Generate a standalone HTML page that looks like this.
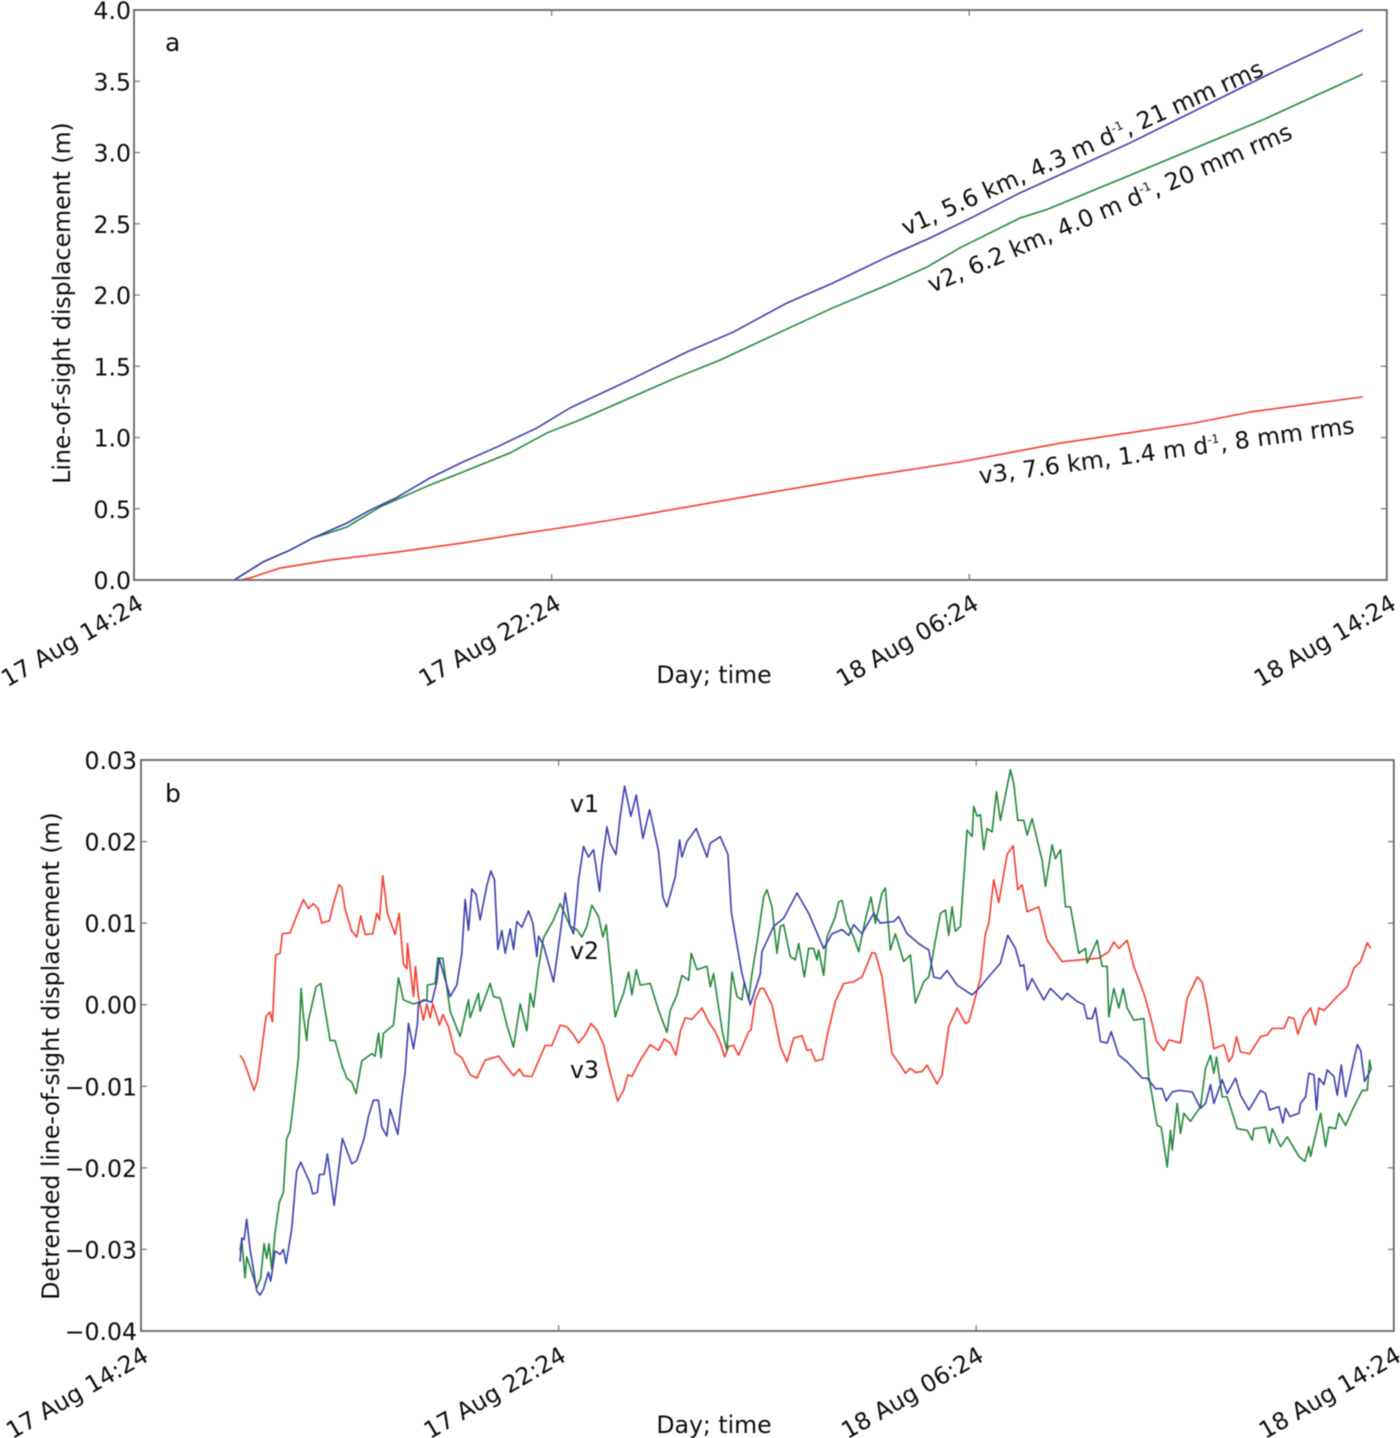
<!DOCTYPE html>
<html lang="en">
<head>
<meta charset="utf-8">
<title>Line-of-sight displacement</title>
<style>
html,body{margin:0;padding:0;background:#fff;}
svg{display:block;filter:blur(.55px);}
text{font-family:"DejaVu Sans","Liberation Sans",sans-serif;fill:#0c0c0c;font-size:23.6px;}
</style>
</head>
<body>
<svg id="fig" xmlns="http://www.w3.org/2000/svg" width="1400" height="1438" viewBox="0 0 1400 1438">
  <rect x="0" y="0" width="1400" height="1438" fill="#fff"/>
  <g id="panelA"></g>
  <g id="panelB"></g>
  <text x="165" y="51" style="font-size:25px">a</text>
  <text x="165" y="802" style="font-size:25px">b</text>
  <text text-anchor="middle" transform="translate(70,303) rotate(-90)">Line-of-sight displacement (m)</text>
  <text text-anchor="middle" transform="translate(59,1056) rotate(-90)">Detrended line-of-sight displacement (m)</text>
  <text text-anchor="middle" x="714" y="683">Day; time</text>
  <text text-anchor="middle" x="714" y="1433">Day; time</text>
  <text transform="translate(906,236) rotate(-24.2)">v1, 5.6 km, 4.3 m d<tspan font-size="12" dy="-9">-1</tspan><tspan dy="9">, 21 mm rms</tspan></text>
  <text transform="translate(932,293) rotate(-23.2)">v2, 6.2 km, 4.0 m d<tspan font-size="12" dy="-9">-1</tspan><tspan dy="9">, 20 mm rms</tspan></text>
  <text transform="translate(980,484) rotate(-7.7)">v3, 7.6 km, 1.4 m d<tspan font-size="12" dy="-9">-1</tspan><tspan dy="9">, 8 mm rms</tspan></text>
  <text x="570" y="812">v1</text>
  <text x="570" y="959">v2</text>
  <text x="570" y="1078">v3</text>
</svg>
<script>
// ---- shared tick data
const dateTicks = ["17 Aug 14:24", "17 Aug 22:24", "18 Aug 06:24", "18 Aug 14:24"];
const dateTickHours = [0, 8, 16, 24];

// ---- panel a: elapsed hours since 17 Aug 14:24, cumulative displacement in metres
const aTicks = [0, 0.5, 1, 1.5, 2, 2.5, 3, 3.5, 4];
const aTickLabels = ["0.0", "0.5", "1.0", "1.5", "2.0", "2.5", "3.0", "3.5", "4.0"];
const aV1Hours = [1.92,2.47,2.99,3.43,4.08,4.52,5.04,5.67,6.30,6.95,7.72,8.35,9.50,10.59,11.48,12.51,13.39,14.43,15.25,16.07,16.97,19.08,21.63,23.54];
const aV1Disp = [0,0.126,0.21,0.295,0.40,0.49,0.58,0.716,0.828,0.933,1.067,1.207,1.404,1.60,1.74,1.944,2.084,2.267,2.40,2.547,2.716,3.067,3.53,3.86];
const aV2Hours = [1.92,2.47,2.99,3.43,4.08,4.71,5.67,6.30,7.20,7.91,8.54,9.50,10.33,11.23,12.38,13.39,14.43,15.19,15.82,16.97,17.49,19.41,21.63,23.54];
const aV2Disp = [0,0.126,0.21,0.295,0.372,0.512,0.667,0.758,0.891,1.032,1.123,1.277,1.411,1.544,1.74,1.91,2.07,2.196,2.33,2.54,2.60,2.89,3.23,3.55];
const aV3Hours = [2.03,2.22,2.80,3.75,5.04,6.30,7.26,8.54,9.50,11.8,13.72,15.82,17.74,20.29,21.4,23.54];
const aV3Disp = [0,0.014,0.084,0.14,0.196,0.26,0.316,0.386,0.442,0.59,0.71,0.828,0.96,1.10,1.18,1.285];

// ---- panel b: sample number (23 s cadence from 17 Aug 14:24), detrended displacement in mm
const SAMPLE_SECONDS = 23;
const bTicks = [-40, -30, -20, -10, 0, 10, 20, 30];
const bTickLabels = ["\u22120.04", "\u22120.03", "\u22120.02", "\u22120.01", "0.00", "0.01", "0.02", "0.03"];

const bV3Samples = [297,307,317,339,349,362,375,387,394,404,417,424,447,462,487,502,517,532,542,565,577,594,602,612,632,647,659,672,695,707,715,725,739,762,774,787,797,799,817,823,832,847,857,867,875,895,905,922,942,962,987,1007,1032,1072,1117,1135,1147,1172,1212,1232,
1257,1277,1297,1312,1332,1349,1367,1387,1402,1429,1447,1460,1472,1497,1527,1552,1569,1587,1604,1617,1632,1652,1682,1702,1722,1737,1750,1762,1777,1792,1822,1829,1842,1857,1867,1892,1917,1937,1957,1982,1997,2009,2022,2044,2057,2082,2107,2137,2162,2192,2202,2222,2252,2277,2292,2307,2322,2342,2357,2387,2402,2422,2447,2472,2482,
2517,2532,2542,2557,2572,2597,2615,2629,2642,2657,2692,2717,2762,2872,2887,2902,2917,2932,2957,2977,3007,3027,3045,3067,3082,3117,3137,3167,3182,3197,3217,3247,3262,3272,3285,3297,3325,3357,3377,3392,3427,3442,3457,3469,3487,3507,3522,3532,3547,3587,3617,3637,3657,3677,3687];
const bV3Disp = [-6.2,-6.8,-7.9,-10.5,-9.3,-5.4,-1.4,-0.9,-2.1,6.1,6.3,8.7,8.8,10.4,12.9,11.8,12.4,11.7,10.0,10.3,12.4,14.7,14.4,11.7,9.0,8.3,10.9,8.6,8.7,11.2,10.4,15.8,11.2,8.6,11.2,5.0,4.4,7.5,1.0,4.7,1.0,-1.9,0.1,-1.6,0.1,-2.5,-1.2,-2.7,-5.9,-6.5,-8.6,-9.0,-6.8,-6.3,-8.7,-7.9,-8.7,-8.8,-5.0,-5.0,
-2.5,-2.7,-3.7,-4.7,-3.7,-2.3,-3.1,-4.9,-7.6,-11.8,-10.5,-8.6,-8.8,-6.8,-4.9,-5.6,-4.2,-4.7,-6.2,-3.3,-1.6,-1.8,-0.4,-2.1,-3.3,-4.7,-6.4,-5.1,-5.0,-6.2,-3.3,-3.1,0.6,2.0,2.0,0.0,-5.1,-7.0,-4.1,-3.8,-5.6,-5.5,-6.9,-6.7,-3.9,0.4,2.6,2.8,3.4,6.4,6.3,3.4,-6.0,-7.4,-8.4,-7.8,-8.3,-8.2,-7.4,-9.7,-8.6,-2.7,-0.4,-2.3,-2.1,
3.2,8.7,10.0,15.3,12.5,18.4,19.5,14.1,14.7,11.4,12.0,7.9,5.3,5.7,6.1,6.5,7.7,6.9,7.9,4.7,1.4,-1.5,-4.5,-5.6,-4.3,-4.7,0.8,3.4,2.8,-0.2,-5.4,-4.9,-7.0,-6.4,-3.9,-5.8,-6.0,-3.9,-3.7,-2.9,-2.9,-1.5,-1.7,-3.6,-1.5,-0.4,-2.5,-0.4,-0.7,1.0,2.2,4.5,5.3,7.6,6.9];

const bV2Samples = [297,302,312,317,332,347,359,369,377,384,392,402,415,427,437,447,459,472,480,487,497,502,525,539,567,582,602,617,632,645,662,692,702,712,720,727,757,772,787,817,857,859,882,890,905,927,957,982,987,1012,1017,1047,1057,1077,1097,1117,1137,1157,1167,1177,1192,1207,1237,
1257,1272,1287,1307,1322,1337,1352,1372,1385,1395,1422,1432,1447,1462,1472,1485,1497,1527,1552,1577,1587,1607,1622,1642,1650,1667,1697,1707,1717,1727,1745,1757,1772,1787,1802,1809,1822,1832,1847,1867,1877,1892,1907,1917,1927,1947,1962,1972,1989,2002,2017,2027,2032,2047,2057,2082,2092,2102,2117,2137,2152,2172,2189,2202,2222,2232,2247,2262,2287,2307,2322,2347,2362,2372,2382,2397,2412,2422,2432,2442,2457,2477,2492,
2497,2507,2517,2527,2537,2552,2565,2577,2607,2617,2629,2647,2657,2672,2702,2712,2732,2742,2757,2772,2787,2812,2832,2837,2867,2882,2897,2902,2917,2932,2945,2957,2977,3007,3022,3047,3059,3077,3087,3092,3107,3117,3127,3147,3177,3192,3207,3217,3225,3242,3257,3287,3317,3332,3337,3372,3384,3392,3417,3437,3472,3490,3502,3507,3537,3552,3562,3582,3592,3612,3637,3662,3677,3684,3689];
const bV2Disp = [-30.2,-28.8,-33.5,-30.9,-32.8,-34.7,-33.5,-29.3,-31.1,-29.3,-32.4,-27.9,-24.2,-23.0,-16.4,-15.5,-11.4,-6.5,2.0,-1.4,-4.4,-1.9,2.2,2.6,-4.4,-4.4,-7.4,-9.0,-9.5,-10.9,-6.9,-6.0,-6.3,-3.5,-6.5,-3.5,-2.5,3.3,0.6,0.1,0.6,2.4,2.6,5.7,5.7,-0.8,-3.9,0.6,-1.6,1.4,-0.8,2.6,1.0,0.8,-2.5,-5.2,0.1,-3.2,1.4,-0.3,4.6,8.2,10.4,
12.4,11.0,9.6,9.2,8.3,9.6,12.2,10.8,8.3,9.8,-1.5,-0.2,1.4,4.0,1.2,4.3,2.4,2.6,-0.7,-3.4,-0.7,1.2,3.6,3.0,6.3,4.3,4.7,2.2,3.8,1.0,-3.7,-5.6,4.0,1.0,0.6,2.8,0.6,3.8,7.5,13.2,14.1,12.0,6.3,9.6,9.8,5.9,5.5,7.5,3.4,6.9,6.9,5.5,6.7,3.6,8.3,10.8,12.6,12.8,10.0,8.3,6.5,10.4,13.2,10.0,13.7,14.3,6.7,8.7,5.3,6.1,0.2,2.8,3.4,5.5,7.9,11.2,11.6,8.5,12.0,9.0,9.6,21.4,20.6,
24.3,23.1,23.3,19.0,21.6,21.2,26.1,22.6,28.8,27.1,22.6,22.6,20.8,22.8,17.7,14.5,19.6,17.9,19.0,12.0,12.0,6.3,6.9,5.1,7.9,4.7,4.7,-1.5,2.0,-0.4,2.0,-0.4,-1.9,-1.7,-8.8,-14.8,-15.0,-19.9,-15.4,-17.8,-12.1,-15.8,-13.3,-14.3,-12.5,-7.8,-6.2,-8.4,-6.4,-11.3,-11.3,-15.2,-15.4,-16.6,-15.2,-15.0,-17.0,-15.2,-17.4,-16.2,-18.6,-19.2,-17.4,-18.6,-13.3,-17.4,-15.0,-15.2,-13.3,-14.8,-12.5,-10.5,-10.5,-6.8,-8.0];

const bV1Samples = [297,302,309,317,327,337,347,357,367,382,389,402,417,427,435,452,462,467,479,507,515,529,535,549,559,579,592,604,632,647,669,682,697,712,722,737,747,770,782,792,802,817,829,832,847,872,887,894,912,927,947,962,972,982,992,1005,1017,1037,1049,1060,1070,1082,1092,1107,1117,1127,1142,1162,1175,1187,1192,1207,1237,
1257,1272,1287,1297,1312,1327,1342,1357,1375,1382,1397,1407,1424,1437,1450,1469,1485,1505,1525,1552,1565,1577,1602,1615,1622,1637,1665,1697,1707,1737,1760,1770,1802,1827,1857,1862,1897,1927,1967,2002,2047,2072,2102,2122,2137,2162,2197,2217,2257,2272,2297,2332,2362,2377,2397,2417,2447,2492,
2517,2537,2577,2599,2622,2637,2647,2657,2672,2707,2727,2747,2762,2777,2807,2827,2837,2852,2862,2877,2897,2909,2932,2957,3002,3017,3042,3062,3074,3092,3112,3152,3177,3192,3207,3217,3242,3257,3282,3297,3322,3357,3372,3384,3412,3424,3432,3445,3472,3477,3492,3502,3517,3525,3532,3547,3557,3577,3587,3599,3612,3647,3657,3669,3687];
const bV1Disp = [-31.5,-28.6,-28.8,-26.3,-30.0,-32.4,-35.1,-35.6,-34.9,-32.8,-33.9,-30.2,-30.6,-30.0,-31.7,-27.5,-22.6,-20.4,-19.3,-21.9,-23.2,-23.0,-20.8,-20.8,-18.3,-24.6,-20.4,-16.4,-19.5,-19.1,-16.4,-13.7,-11.7,-11.7,-15.0,-16.1,-12.8,-15.9,-11.4,-8.3,-2.3,-5.4,-2.3,0.1,0.6,0.3,2.8,5.7,3.1,1.0,2.4,6.3,12.9,9.1,14.2,13.5,10.4,14.6,16.4,15.3,6.8,9.1,6.3,9.3,6.8,10.2,9.5,11.5,10.0,5.9,8.4,7.3,2.8,
8.7,13.7,9.6,8.7,15.3,19.4,18.1,19.0,13.9,17.3,21.8,19.8,18.4,23.1,26.8,23.1,25.7,20.4,23.9,18.8,13.2,12.0,15.7,20.2,18.1,20.0,21.6,18.1,19.8,20.6,18.4,11.4,3.8,0.0,3.8,6.5,9.6,10.6,13.7,11.2,6.9,8.7,9.2,8.5,9.8,8.7,11.2,10.0,10.2,10.8,8.7,7.5,6.7,3.4,3.2,4.2,2.4,1.2,
2.2,3.2,5.1,8.5,6.9,4.7,4.9,1.8,3.2,0.6,2.0,1.2,0.6,1.4,0.4,0.0,-1.7,-1.7,-0.4,-4.5,-4.7,-3.3,-6.2,-7.0,-9.0,-9.0,-10.3,-10.3,-11.8,-10.7,-10.5,-10.7,-12.7,-12.1,-9.8,-12.1,-9.2,-10.9,-9.0,-11.1,-12.9,-10.5,-10.9,-12.9,-12.5,-14.5,-12.7,-13.7,-13.3,-12.1,-11.3,-8.4,-8.6,-12.9,-9.0,-9.8,-8.0,-8.8,-11.1,-7.4,-11.3,-4.9,-5.6,-9.4,-8.0];

// ---- axis functions
const HOUR_PX = 52.2;
const xA = h => 134 + h * HOUR_PX;
const yA = m => 580 - m * 142.5;
const xB = h => 141 + h * HOUR_PX;
const yB = mm => 760 + (30 - mm) * 8.157;
const sampleHours = s => s * SAMPLE_SECONDS / 3600;

const NS = "http://www.w3.org/2000/svg";
const COLORS = { v1: "#3c3fae", v2: "#23873a", v3: "#f43c30" };

function svgEl(parent, tag, attrs, name) {
  const el = document.createElementNS(NS, tag);
  for (const k in attrs) el.setAttribute(k, attrs[k]);
  
  
  parent.appendChild(el);
  return el;
}

function drawSeries(parent, xs, ys, color, name) {
  const d = xs.map((x, i) => (i ? "L" : "M") + x.toFixed(2) + " " + ys[i].toFixed(2)).join("");
  svgEl(parent, "path", { d: d, fill: "none", stroke: color, "stroke-width": 1.6, "stroke-linejoin": "round" }, name);
}

function drawPanel(parent, prefix, xFn, yFn, yTicks, yLabels, labelRight, dx, dy) {
  const L = xFn(0), R = xFn(24), T = yFn(yTicks[yTicks.length - 1]), B = yFn(yTicks[0]);
  yTicks.forEach((t, i) => {
    const y = yFn(t);
    svgEl(parent, "line", { x1: L, x2: L + 6, y1: y, y2: y, stroke: "#777", "stroke-width": 1.2 }, prefix + "-y-tick-left");
    svgEl(parent, "line", { x1: R, x2: R - 6, y1: y, y2: y, stroke: "#777", "stroke-width": 1.2 }, prefix + "-y-tick-right");
    const lab = svgEl(parent, "text", { x: labelRight, y: y + 9, "text-anchor": "end" }, prefix + "-y-tick-label");
    lab.textContent = yLabels[i];
  });
  dateTickHours.forEach((h, i) => {
    const x = xFn(h);
    svgEl(parent, "line", { x1: x, x2: x, y1: B, y2: B - 6, stroke: "#777", "stroke-width": 1.2 }, prefix + "-x-tick-bottom");
    svgEl(parent, "line", { x1: x, x2: x, y1: T, y2: T + 6, stroke: "#777", "stroke-width": 1.2 }, prefix + "-x-tick-top");
    const lab = svgEl(parent, "text", { "text-anchor": "end", transform: "translate(" + (x + dx) + "," + (B + dy) + ") rotate(-30)" }, prefix + "-x-tick-label");
    lab.textContent = dateTicks[i];
  });
  svgEl(parent, "rect", { x: L, y: T, width: R - L, height: B - T, fill: "none", stroke: "#666", "stroke-width": 1.8 }, prefix + "-plot-frame");
}

const panelA = document.getElementById("panelA");
const panelB = document.getElementById("panelB");

drawSeries(panelA, aV3Hours.map(xA), aV3Disp.map(yA), COLORS.v3, "panel-a-v3-line");
drawSeries(panelA, aV2Hours.map(xA), aV2Disp.map(yA), COLORS.v2, "panel-a-v2-line");
drawSeries(panelA, aV1Hours.map(xA), aV1Disp.map(yA), COLORS.v1, "panel-a-v1-line");
drawPanel(panelA, "panel-a", xA, yA, aTicks, aTickLabels, 131, 11, 28);

drawSeries(panelB, bV3Samples.map(s => xB(sampleHours(s))), bV3Disp.map(yB), COLORS.v3, "panel-b-v3-line");
drawSeries(panelB, bV2Samples.map(s => xB(sampleHours(s))), bV2Disp.map(yB), COLORS.v2, "panel-b-v2-line");
drawSeries(panelB, bV1Samples.map(s => xB(sampleHours(s))), bV1Disp.map(yB), COLORS.v1, "panel-b-v1-line");
drawPanel(panelB, "panel-b", xB, yB, bTicks, bTickLabels, 137, 9, 29);
</script>
</body>
</html>
